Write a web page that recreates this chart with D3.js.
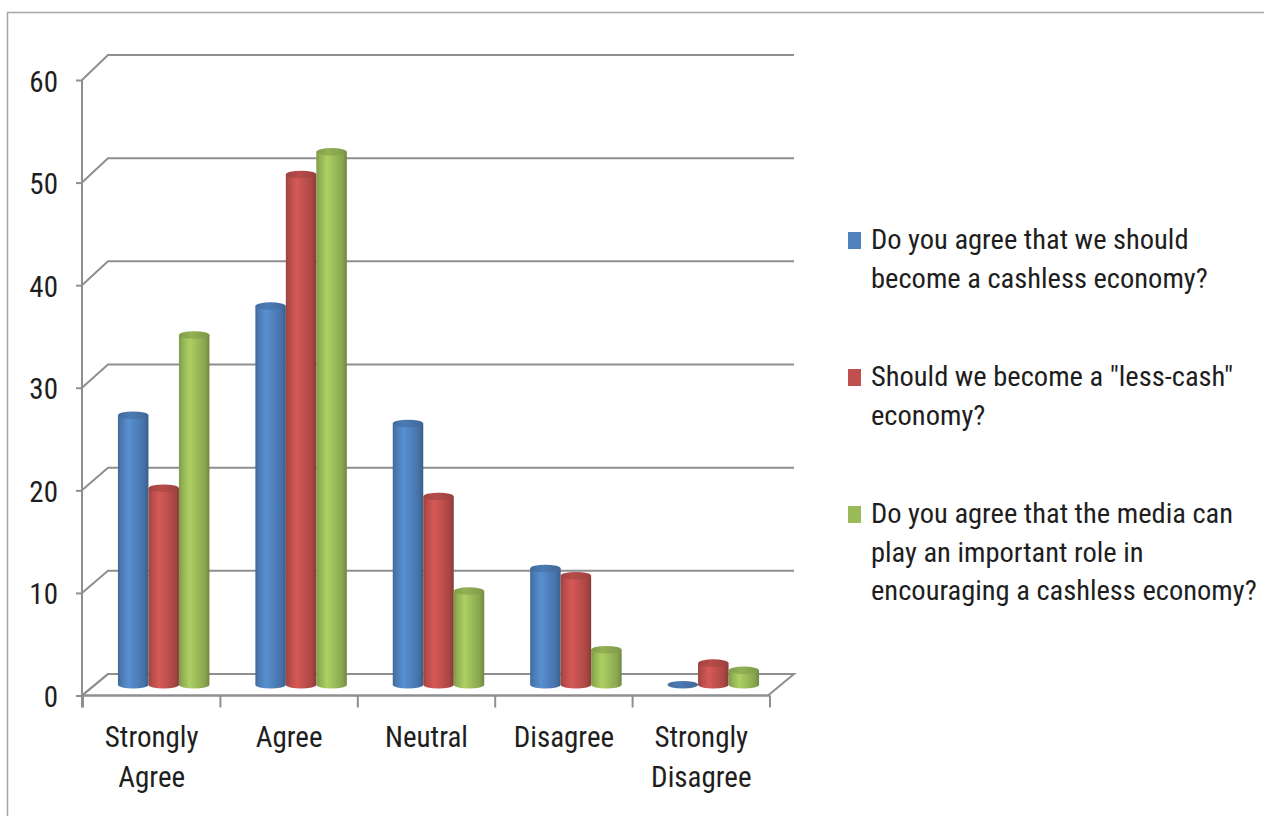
<!DOCTYPE html>
<html>
<head>
<meta charset="utf-8">
<script src="https://cdn.jsdelivr.net/npm/d3@7"></script>
<style>
  html, body { margin: 0; padding: 0; background: #ffffff; }
  svg { display: block; }
  text { font-family: "Liberation Sans Narrow", "Arial Narrow", "Roboto Condensed", "Liberation Sans", sans-serif; fill: #1e1e1e; }
</style>
</head>
<body>
<svg id="chart" width="1264" height="816"></svg>
<script>
// Survey responses (%) for three questions about a cashless economy
const categories = ["Strongly Agree", "Agree", "Neutral", "Disagree", "Strongly Disagree"];
const seriesKeys = ["cashless", "lessCash", "media"];
const cashlessValues = [26.2, 36.8, 25.4, 11.3, 0];
const lessCashValues = [19.1, 49.6, 18.3, 10.6, 2.1];
const mediaValues = [34.0, 51.8, 9.1, 3.4, 1.4];
const seriesLabelLines = [
  ["Do you agree that we should", "become a cashless economy?"],
  ["Should we become a \"less-cash\"", "economy?"],
  ["Do you agree that the media can", "play an important role in", "encouraging a cashless economy?"]
];
const seriesColors = ["#4F81BD", "#C0504D", "#9BBB59"];
const yTicks = [0, 10, 20, 30, 40, 50, 60];

const seriesValues = [cashlessValues, lessCashValues, mediaValues];

const svg = d3.select("#chart");
const defs = svg.append("defs");

// outer chart-area frame
svg.append("path")
  .attr("d", "M7.5,816 L7.5,12.5 L1264,12.5")
  .attr("fill", "none").attr("stroke", "#a6a6a6").attr("stroke-width", 1.5);

// 3D projection: front plane and back wall use slightly different vertical scales
const depthX = 26;
const frontLeft = 82, frontRight = 768;
const yFront = d3.scaleLinear().domain([0, 60]).range([695.5, 80]);
const yBack = d3.scaleLinear().domain([0, 60]).range([674, 55]);
const yMid = d3.scaleLinear().domain([0, 60])
  .range([(yFront(0) + yBack(0)) / 2, (yFront(60) + yBack(60)) / 2]);

const xFront = d3.scaleBand().domain(categories).range([83, 770]);
const xMid = d3.scaleBand().domain(categories).range([83 + depthX / 2 - 1, 770 + depthX / 2 - 1]);
const groupWidth = 91.5;
const xSeries = d3.scaleBand().domain(seriesKeys).range([-groupWidth / 2, groupWidth / 2]);

const gridColor = "#8f8f8f";

// floor
svg.append("path")
  .attr("d", `M${frontLeft},${yFront(0)} L${frontRight},${yFront(0)} L${frontRight + depthX},${yBack(0)} L${frontLeft + depthX},${yBack(0)} Z`)
  .attr("fill", "#ffffff").attr("stroke", gridColor).attr("stroke-width", 2);

// gridlines on side wall (diagonal) and back wall (horizontal)
const grid = svg.append("g");
yTicks.forEach(v => {
  grid.append("path")
    .attr("d", `M${frontLeft},${yFront(v)} L${frontLeft + depthX},${yBack(v)} L${frontRight + depthX},${yBack(v)}`)
    .attr("fill", "none").attr("stroke", gridColor).attr("stroke-width", 2);
});

// value axis (front)
const yAxisG = svg.append("g").attr("transform", `translate(${frontLeft},0)`)
  .call(d3.axisLeft(yFront).tickValues(yTicks).tickSize(6).tickPadding(18).tickFormat(d3.format("d")));
yAxisG.select(".domain").attr("stroke", gridColor).attr("stroke-width", 2)
  .attr("d", `M0,${yFront(60)} V${yFront(0) + 12}`);
yAxisG.selectAll(".tick line").attr("stroke", gridColor).attr("stroke-width", 2);
yAxisG.selectAll(".tick text").attr("font-size", 29).attr("fill", "#1e1e1e")
  .attr("font-family", null).attr("dy", "0.38em");
yAxisG.attr("font-family", null);

// category axis (front edge of the floor)
const xAxisG = svg.append("g").attr("transform", `translate(0,${yFront(0)})`);
xAxisG.append("line").attr("x1", frontLeft).attr("x2", 770)
  .attr("stroke", gridColor).attr("stroke-width", 2);
const bandEdges = categories.map(c => xFront(c)).concat([xFront.range()[1]]);
xAxisG.selectAll("line.tk").data(bandEdges).join("line").attr("class", "tk")
  .attr("x1", d => d).attr("x2", d => d).attr("y1", 0).attr("y2", 12)
  .attr("stroke", gridColor).attr("stroke-width", 2);

const catLabels = svg.append("g");
categories.forEach(c => {
  const words = c.split(" ");
  const t = catLabels.append("text")
    .attr("x", xFront(c) + xFront.bandwidth() / 2)
    .attr("y", 747)
    .attr("text-anchor", "middle")
    .attr("font-size", 29);
  words.forEach((w, i) => {
    t.append("tspan").attr("x", xFront(c) + xFront.bandwidth() / 2)
      .attr("dy", i === 0 ? 0 : 40).text(w);
  });
});

// cylinder gradients
seriesColors.forEach((col, i) => {
  const base = d3.color(col);
  const g = defs.append("linearGradient").attr("id", "body" + i)
    .attr("x1", "0%").attr("x2", "100%").attr("y1", "0%").attr("y2", "0%");
  [[0, base.darker(0.55)], [0.12, base.darker(0.15)], [0.35, base.brighter(0.3)],
   [0.6, base], [0.85, base.darker(0.35)], [1, base.darker(0.9)]]
    .forEach(([o, c]) => g.append("stop").attr("offset", o).attr("stop-color", c.formatHex()));
  const tg = defs.append("linearGradient").attr("id", "top" + i)
    .attr("x1", "0%").attr("x2", "100%").attr("y1", "0%").attr("y2", "0%");
  [[0, base.darker(0.5)], [0.4, base.darker(0.15)], [1, base.darker(0.6)]]
    .forEach(([o, c]) => tg.append("stop").attr("offset", o).attr("stop-color", c.formatHex()));
});

// cylinders
const ry = 3.8;
const bars = svg.append("g");
categories.forEach((c, ci) => {
  const cx0 = xMid(c) + xMid.bandwidth() / 2;
  seriesKeys.forEach((k, si) => {
    const v = seriesValues[si][ci];
    const x = cx0 + xSeries(k);
    const w = xSeries.bandwidth();
    const cx = x + w / 2;
    const yTop = yMid(v);
    const yBase = yMid(0);
    const g = bars.append("g");
    if (v > 0) {
      g.append("path")
        .attr("d", `M${x},${yTop} L${x},${yBase} A${w / 2},${ry} 0 0 0 ${x + w},${yBase} L${x + w},${yTop} Z`)
        .attr("fill", `url(#body${si})`);
    }
    g.append("ellipse")
      .attr("cx", cx).attr("cy", yTop).attr("rx", w / 2).attr("ry", ry)
      .attr("fill", `url(#top${si})`);
  });
});

// legend
const legend = svg.append("g");
const legendTop = 249, entryGap = 137, lineGap = 38.7;
seriesLabelLines.forEach((lines, i) => {
  const by = legendTop + i * entryGap;
  legend.append("rect")
    .attr("x", 848).attr("y", by - 17).attr("width", 13).attr("height", 17)
    .attr("fill", seriesColors[i]);
  const t = legend.append("text").attr("x", 871).attr("y", by).attr("font-size", 28.5);
  lines.forEach((ln, j) => {
    t.append("tspan").attr("x", 871).attr("dy", j === 0 ? 0 : lineGap).text(ln);
  });
});
</script>
</body>
</html>
